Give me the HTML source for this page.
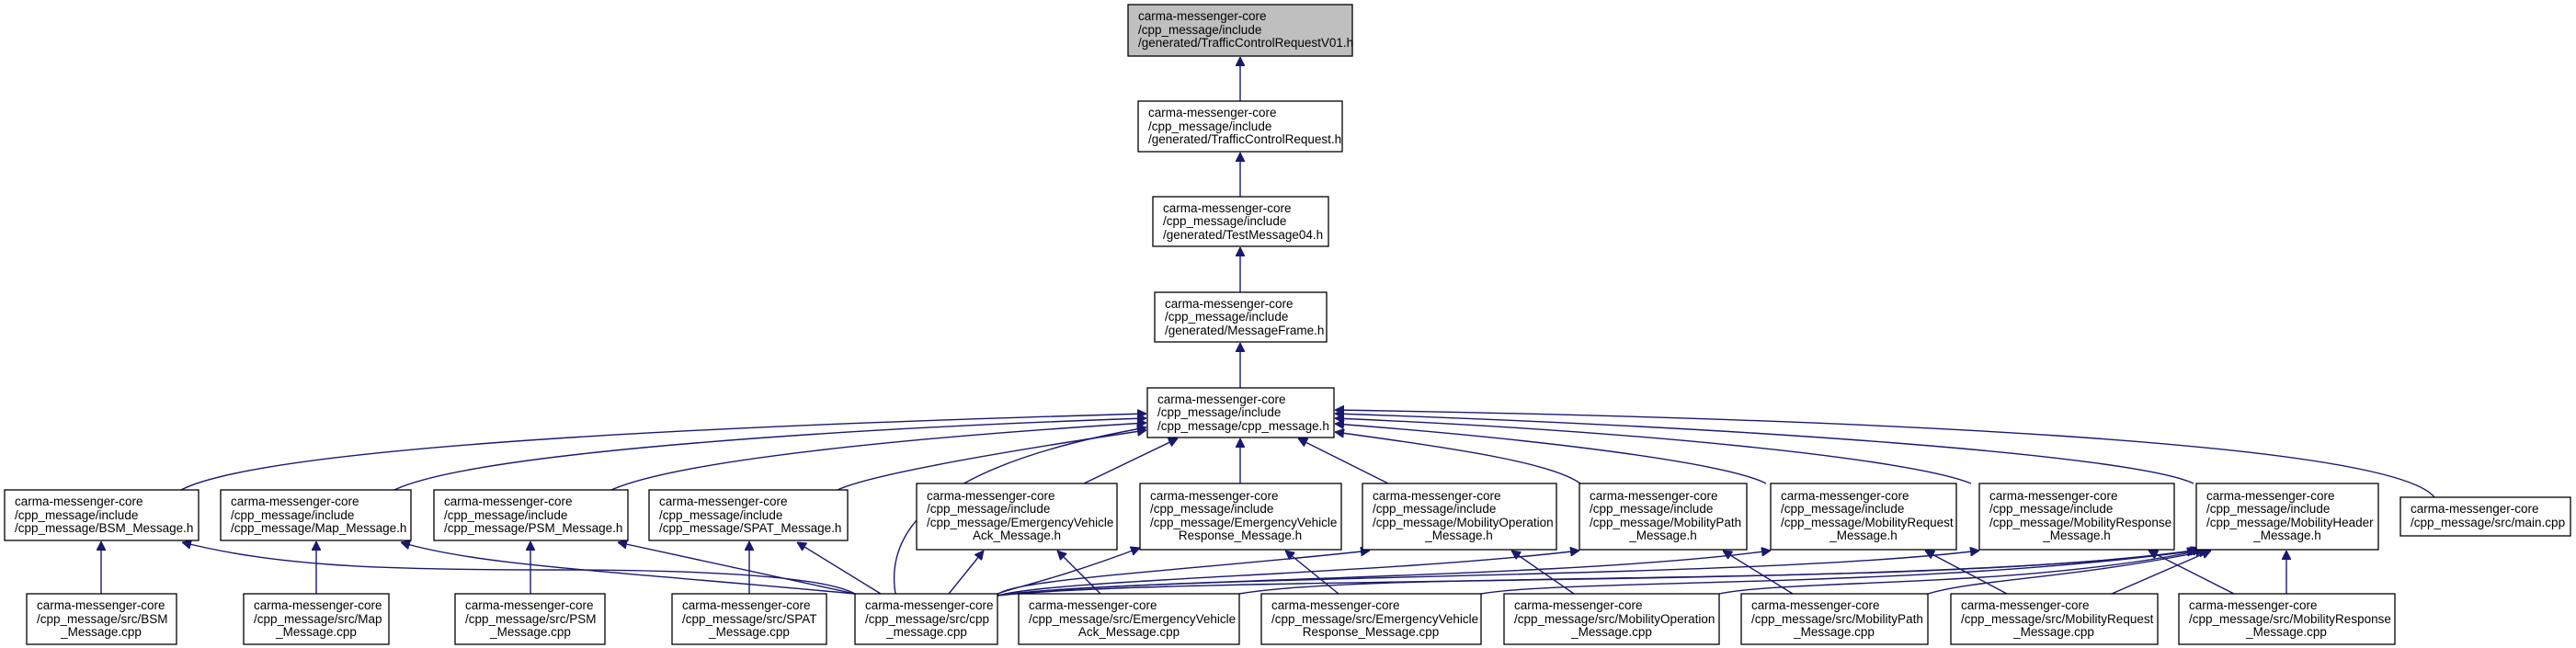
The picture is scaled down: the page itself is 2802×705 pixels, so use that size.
<!DOCTYPE html>
<html><head><meta charset="utf-8">
<style>
html,body{margin:0;padding:0;background:#fff;}
svg{display:block;}
text{font-family:"Liberation Sans",sans-serif;font-size:13.5px;fill:#000;}
rect{stroke:#000;stroke-width:1.3;fill:#fff;}
path{fill:none;stroke:#191970;stroke-width:1.4;}
</style></head><body>
<svg width="2802" height="705" viewBox="0 0 2802 705" xmlns="http://www.w3.org/2000/svg">
<defs>
<marker id="a" viewBox="0 0 10 10" refX="10" refY="5" markerWidth="10" markerHeight="10" markerUnits="userSpaceOnUse" orient="auto-start-reverse">
<path d="M0,0 L10,5 L0,10 z" style="fill:#191970;stroke:#191970;stroke-width:1"/>
</marker>
</defs>
<g marker-start="url(#a)">
<path d="M1349,62 L1349,110"/>
<path d="M1349,166 L1349,214"/>
<path d="M1349,269 L1349,318"/>
<path d="M1349,373 L1349,422"/>
<path d="M1247,450 C900,460 300,480 197,533"/>
<path d="M1247,455 C950,465 520,490 429,533"/>
<path d="M1247,460 C1000,475 740,500 665,533"/>
<path d="M1247,468 C1100,490 950,515 911,533"/>
<path d="M1247,465 C1050,500 960,560 974,646"/>
<path d="M1281,477 L1179,526"/>
<path d="M1349,477 L1349,526"/>
<path d="M1412,477 L1510,526"/>
<path d="M1452,470 C1600,490 1690,505 1719,526"/>
<path d="M1452,461 C1700,480 1880,505 1921,526"/>
<path d="M1452,455 C1800,470 2080,500 2144,526"/>
<path d="M1452,450 C1900,465 2320,495 2386,526"/>
<path d="M1452,446 C2000,455 2600,480 2648,541"/>
<path d="M110,589 L110,646"/>
<path d="M344,589 L344,646"/>
<path d="M577,589 L577,646"/>
<path d="M815,589 L815,646"/>
<path d="M1150,599 L1197,646"/>
<path d="M1398,599 L1456,646"/>
<path d="M1644,599 L1712,646"/>
<path d="M1874,599 L1950,646"/>
<path d="M2094,599 L2183,646"/>
<path d="M2337,599 L2430,646"/>
<path d="M2487,599 L2487,646"/>
<path d="M198,590 C300,615 400,620 600,620 C800,620 900,630 930,646"/>
<path d="M436,590 C520,615 650,620 930,646"/>
<path d="M672,590 L930,646"/>
<path d="M867,590 L958,646"/>
<path d="M1070,599 L1032,646"/>
<path d="M1240,596 C1150,630 1100,640 1085,646"/>
<path d="M1490,599 C1300,620 1100,630 1085,647"/>
<path d="M1718,599 C1500,625 1150,630 1085,648"/>
<path d="M1926,599 C1700,630 1200,630 1085,648"/>
<path d="M2153,599 C1900,630 1250,625 1085,648"/>
<path d="M2389,599 C2100,640 1300,625 1085,648"/>
<path d="M2392,598 C2100,640 1500,620 1348,646"/>
<path d="M2395,598 C2100,640 1700,630 1611,646"/>
<path d="M2398,598 C2200,640 1950,630 1870,646"/>
<path d="M2402,599 C2250,630 2150,630 2097,646"/>
<path d="M2405,599 L2297,646"/>
</g>

<!-- top chain -->
<rect x="1227" y="5" width="244" height="56" style="fill:#bfbfbf"/>
<text x="1238" y="22">carma-messenger-core</text><text x="1238" y="37">/cpp_message/include</text><text x="1238" y="51">/generated/TrafficControlRequestV01.h</text>
<rect x="1238" y="110" width="222" height="55"/>
<text x="1249" y="127">carma-messenger-core</text><text x="1249" y="142">/cpp_message/include</text><text x="1249" y="156">/generated/TrafficControlRequest.h</text>
<rect x="1254" y="214" width="191" height="54"/>
<text x="1265" y="231">carma-messenger-core</text><text x="1265" y="245">/cpp_message/include</text><text x="1265" y="260">/generated/TestMessage04.h</text>
<rect x="1256" y="318" width="187" height="54"/>
<text x="1267" y="335">carma-messenger-core</text><text x="1267" y="349">/cpp_message/include</text><text x="1267" y="364">/generated/MessageFrame.h</text>
<rect x="1248" y="422" width="203" height="54"/>
<text x="1259" y="439">carma-messenger-core</text><text x="1259" y="453">/cpp_message/include</text><text x="1259" y="468">/cpp_message/cpp_message.h</text>

<!-- row 3, 3-line -->
<rect x="5" y="533" width="211" height="55"/>
<text x="16" y="550">carma-messenger-core</text><text x="16" y="565">/cpp_message/include</text><text x="16" y="579">/cpp_message/BSM_Message.h</text>
<rect x="240" y="533" width="207" height="55"/>
<text x="251" y="550">carma-messenger-core</text><text x="251" y="565">/cpp_message/include</text><text x="251" y="579">/cpp_message/Map_Message.h</text>
<rect x="472" y="533" width="211" height="55"/>
<text x="483" y="550">carma-messenger-core</text><text x="483" y="565">/cpp_message/include</text><text x="483" y="579">/cpp_message/PSM_Message.h</text>
<rect x="706" y="533" width="216" height="55"/>
<text x="717" y="550">carma-messenger-core</text><text x="717" y="565">/cpp_message/include</text><text x="717" y="579">/cpp_message/SPAT_Message.h</text>

<!-- row 3, 4-line -->
<rect x="997" y="526" width="218" height="72"/>
<text x="1008" y="544">carma-messenger-core</text><text x="1008" y="558">/cpp_message/include</text><text x="1008" y="573">/cpp_message/EmergencyVehicle</text><text x="1106" y="587" text-anchor="middle">Ack_Message.h</text>
<rect x="1240" y="526" width="219" height="72"/>
<text x="1251" y="544">carma-messenger-core</text><text x="1251" y="558">/cpp_message/include</text><text x="1251" y="573">/cpp_message/EmergencyVehicle</text><text x="1349" y="587" text-anchor="middle">Response_Message.h</text>
<rect x="1482" y="526" width="211" height="72"/>
<text x="1493" y="544">carma-messenger-core</text><text x="1493" y="558">/cpp_message/include</text><text x="1493" y="573">/cpp_message/MobilityOperation</text><text x="1587" y="587" text-anchor="middle">_Message.h</text>
<rect x="1718" y="526" width="182" height="72"/>
<text x="1729" y="544">carma-messenger-core</text><text x="1729" y="558">/cpp_message/include</text><text x="1729" y="573">/cpp_message/MobilityPath</text><text x="1809" y="587" text-anchor="middle">_Message.h</text>
<rect x="1926" y="526" width="202" height="72"/>
<text x="1937" y="544">carma-messenger-core</text><text x="1937" y="558">/cpp_message/include</text><text x="1937" y="573">/cpp_message/MobilityRequest</text><text x="2027" y="587" text-anchor="middle">_Message.h</text>
<rect x="2153" y="526" width="212" height="72"/>
<text x="2164" y="544">carma-messenger-core</text><text x="2164" y="558">/cpp_message/include</text><text x="2164" y="573">/cpp_message/MobilityResponse</text><text x="2259" y="587" text-anchor="middle">_Message.h</text>
<rect x="2389" y="526" width="198" height="72"/>
<text x="2400" y="544">carma-messenger-core</text><text x="2400" y="558">/cpp_message/include</text><text x="2400" y="573">/cpp_message/MobilityHeader</text><text x="2488" y="587" text-anchor="middle">_Message.h</text>
<rect x="2611" y="541" width="185" height="42"/>
<text x="2622" y="558">carma-messenger-core</text><text x="2622" y="573">/cpp_message/src/main.cpp</text>

<!-- row 4 -->
<rect x="29" y="646" width="163" height="55"/>
<text x="40" y="663">carma-messenger-core</text><text x="40" y="678">/cpp_message/src/BSM</text><text x="110" y="692" text-anchor="middle">_Message.cpp</text>
<rect x="265" y="646" width="158" height="55"/>
<text x="276" y="663">carma-messenger-core</text><text x="276" y="678">/cpp_message/src/Map</text><text x="344" y="692" text-anchor="middle">_Message.cpp</text>
<rect x="495" y="646" width="163" height="55"/>
<text x="506" y="663">carma-messenger-core</text><text x="506" y="678">/cpp_message/src/PSM</text><text x="577" y="692" text-anchor="middle">_Message.cpp</text>
<rect x="731" y="646" width="168" height="55"/>
<text x="742" y="663">carma-messenger-core</text><text x="742" y="678">/cpp_message/src/SPAT</text><text x="815" y="692" text-anchor="middle">_Message.cpp</text>
<rect x="930" y="646" width="155" height="55"/>
<text x="941" y="663">carma-messenger-core</text><text x="941" y="678">/cpp_message/src/cpp</text><text x="1008" y="692" text-anchor="middle">_message.cpp</text>
<rect x="1108" y="646" width="240" height="55"/>
<text x="1119" y="663">carma-messenger-core</text><text x="1119" y="678">/cpp_message/src/EmergencyVehicle</text><text x="1228" y="692" text-anchor="middle">Ack_Message.cpp</text>
<rect x="1372" y="646" width="239" height="55"/>
<text x="1383" y="663">carma-messenger-core</text><text x="1383" y="678">/cpp_message/src/EmergencyVehicle</text><text x="1491" y="692" text-anchor="middle">Response_Message.cpp</text>
<rect x="1636" y="646" width="234" height="55"/>
<text x="1647" y="663">carma-messenger-core</text><text x="1647" y="678">/cpp_message/src/MobilityOperation</text><text x="1753" y="692" text-anchor="middle">_Message.cpp</text>
<rect x="1894" y="646" width="203" height="55"/>
<text x="1905" y="663">carma-messenger-core</text><text x="1905" y="678">/cpp_message/src/MobilityPath</text><text x="1995" y="692" text-anchor="middle">_Message.cpp</text>
<rect x="2122" y="646" width="225" height="55"/>
<text x="2133" y="663">carma-messenger-core</text><text x="2133" y="678">/cpp_message/src/MobilityRequest</text><text x="2234" y="692" text-anchor="middle">_Message.cpp</text>
<rect x="2370" y="646" width="235" height="55"/>
<text x="2381" y="663">carma-messenger-core</text><text x="2381" y="678">/cpp_message/src/MobilityResponse</text><text x="2487" y="692" text-anchor="middle">_Message.cpp</text>
</svg>
</body></html>
